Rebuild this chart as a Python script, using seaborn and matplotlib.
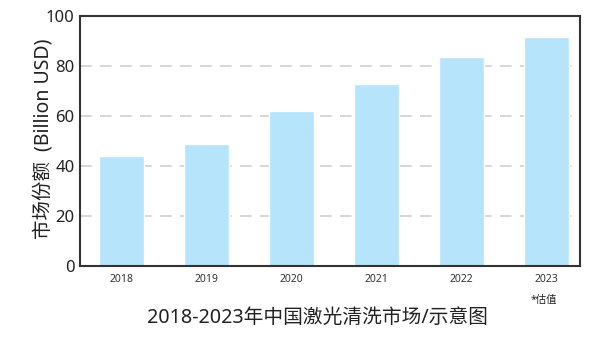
import matplotlib
matplotlib.use("Agg")
import matplotlib.pyplot as plt
import seaborn as sns
import pandas as pd

years = ["2018", "2019", "2020", "2021", "2022", "2023"]
values = [44, 49, 62, 73, 83.5, 91.5]
yticks = [0, 20, 40, 60, 80, 100]

sns.set_theme(style="white")
plt.rcParams['font.family'] = ['Noto Sans', 'Noto Sans CJK SC', 'DejaVu Sans']

df = pd.DataFrame({"year": years, "value": values})
fig = plt.figure(figsize=(6, 3.39), dpi=100)
ax = fig.add_axes([80/600, 1-266/339, 500/600, 250/339])
sns.barplot(data=df, x="year", y="value", color="#b5e4fb", saturation=1, width=0.53, ax=ax, zorder=2)
ax.set_xlim(-0.49, 5.4)
ax.set_ylim(0, 100)
ax.set_yticks(yticks)
ax.yaxis.grid(True, linestyle=(0, (7, 5)), color="#d0d0d0", linewidth=1.2, zorder=0)
ax.set_axisbelow(True)
for s in ax.spines.values():
    s.set_color("#333333")
    s.set_linewidth(1.5)
ax.tick_params(axis="y", labelsize=12, length=3, width=1, pad=1, labelcolor="#222222", color="#cccccc")
ax.tick_params(axis="x", labelsize=7.5, length=0, pad=6, colors="#333333")
ax.set_xlabel("")
ax.set_ylabel("市场份额  (Billion USD)", fontsize=14, color="#222222")
ax.yaxis.set_label_coords(-0.05, 0.508)
fig.text(317/600, 1-318/339, "2018-2023年中国激光清洗市场/示意图", ha="center", va="center", fontsize=14.2, color="#222222")
fig.text(544/600, 1-300/339, "*估值", ha="center", va="center", fontsize=7.5, color="#222222")
fig.savefig("out.png", dpi=100)
